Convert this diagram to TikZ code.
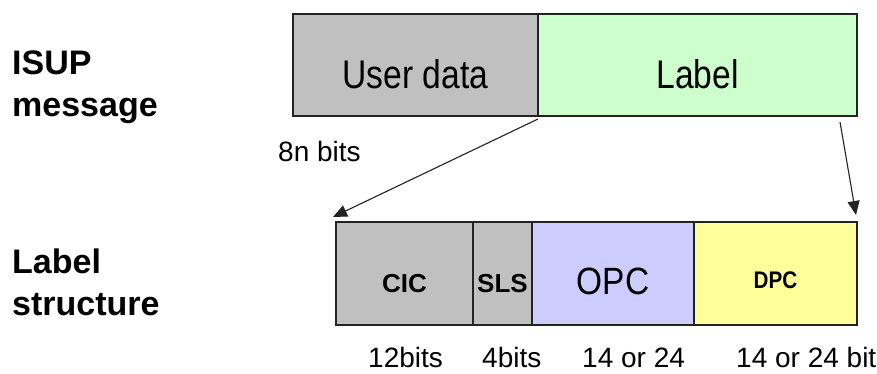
\documentclass[tikz,border=0pt]{standalone}
\usepackage{fontspec}
\setmainfont{Liberation Sans}
\usepackage{graphicx}
\usepackage{tikz}
\usetikzlibrary{arrows.meta, positioning, calc}
\definecolor{fieldgray}{RGB}{192,192,192}
\definecolor{fieldgreen}{RGB}{204,255,204}
\definecolor{fieldblue}{RGB}{204,204,255}
\definecolor{fieldyellow}{RGB}{255,255,153}
\definecolor{edgedark}{RGB}{35,35,35}
\newcommand{\narrowtext}[2]{\scalebox{#1}[1]{#2}}
\tikzset{
  field/.style={rectangle, draw=edgedark, line width=1.2pt, inner sep=0pt,
    outer sep=0pt, minimum height=102pt},
  sidetext/.style={anchor=north west, align=left, inner sep=0pt,
    font=\fontsize{34}{42}\selectfont\bfseries},
  bigtext/.style={anchor=base, inner sep=0pt, font=\fontsize{40}{46}\selectfont},
  smalltext/.style={anchor=base, inner sep=0pt, font=\fontsize{26}{30}\selectfont\bfseries},
  bitstext/.style={anchor=base west, inner sep=0pt, font=\fontsize{28}{34}\selectfont},
  pointer/.style={-{Triangle[length=14pt, width=12pt]}, line width=1.1pt, color=edgedark}
}

\begin{document}
\begin{tikzpicture}[x=1pt, y=-1pt]
  \clip (0,0) rectangle (877,374);
  \fill[white] (0,0) rectangle (877,374);

  % message row
  \node[sidetext] (isup) at (12,51) {ISUP\\message};
  \node[field, fill=fieldgray, anchor=north west, minimum width=245pt] (user) at (293,14) {};
  \node[field, fill=fieldgreen, right=0pt of user, minimum width=319pt] (label) {};
  \node[bigtext] (usertxt) at ([yshift=-24pt]user.center) {\narrowtext{0.84}{User data}};
  \node[bigtext] (labeltxt) at ([yshift=-24pt]label.center) {\narrowtext{0.84}{Label}};
  \node[bitstext] (nbits) at (278,162) {8n bits};

  % label structure row
  \node[sidetext] (lstruct) at (12,249) {Label\\structure};
  \node[field, fill=fieldgray, anchor=north west, minimum width=137pt, minimum height=103pt] (cic) at (336,222) {};
  \node[field, fill=fieldgray, right=0pt of cic, minimum width=59pt, minimum height=103pt] (sls) {};
  \node[field, fill=fieldblue, right=0pt of sls, minimum width=162pt, minimum height=103pt] (opc) {};
  \node[field, fill=fieldyellow, right=0pt of opc, minimum width=163pt, minimum height=103pt] (dpc) {};
  \node[smalltext] (cictxt) at ([yshift=-18.5pt]cic.center) {CIC};
  \node[smalltext] (slstxt) at ([yshift=-18.5pt]sls.center) {SLS};
  \node[bigtext, font=\fontsize{38}{44}\selectfont] (opctxt) at ([yshift=-21pt]opc.center) {\narrowtext{0.88}{OPC}};
  \node[smalltext, font=\fontsize{24}{28}\selectfont\bfseries] (dpctxt) at ([yshift=-14.5pt]dpc.center) {\narrowtext{0.86}{DPC}};

  \node[bitstext] (cicbits) at (368,367) {12bits};
  \node[bitstext] (slsbits) at (482,367) {4bits};
  \node[bitstext] (opcbits) at (582,367) {14 or 24};
  \node[bitstext] (dpcbits) at (736,367) {14 or 24 bits};

  \draw[pointer] ([yshift=-3pt]label.south west) -- ([xshift=-3pt, yshift=5pt]cic.north west);
  \draw[pointer] ([xshift=-17pt, yshift=-6pt]label.south east) -- ([xshift=-1pt, yshift=7pt]dpc.north east);
\end{tikzpicture}
\end{document}
